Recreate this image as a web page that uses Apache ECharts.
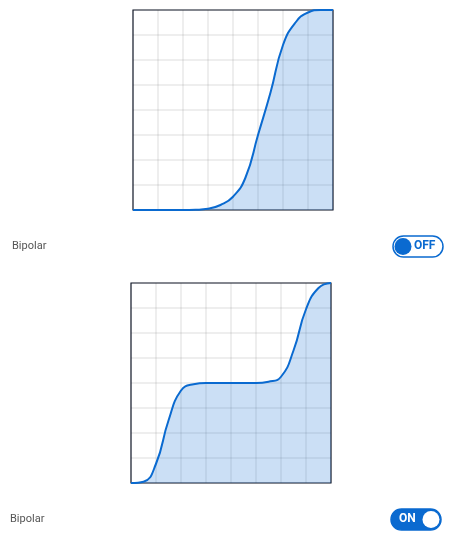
<!DOCTYPE html>
<html><head><meta charset="utf-8">
<script src="https://cdn.jsdelivr.net/npm/echarts@6/dist/echarts.min.js"></script>
<style>html,body{margin:0;background:#fff}#main{width:450px;height:535px}</style>
</head><body><div id="main"></div>
<script>
const xs = [0, 0.5, 1, 1.5, 2, 2.5, 3, 3.5, 4, 4.5, 5, 5.5, 6, 6.5, 7, 7.5, 8];
const unipolar = [0, 0, 0, 0, 0, 0.01, 0.05, 0.2, 0.53, 1.3, 3.0, 4.7, 6.6, 7.5, 7.9, 8, 8];
const bipolar = [0, 0.05, 0.77, 2.5, 3.7, 3.95, 4, 4, 4, 4, 4, 4.05, 4.25, 5.3, 6.95, 7.8, 8];

const blue = "#0a6ad0";
const pair = (ys) => xs.map((x, i) => [x, ys[i]]);

const axisX = (gi) => ({
  type: "value", gridIndex: gi, min: 0, max: 8, interval: 1,
  axisLabel: { show: false }, axisTick: { show: false },
  axisLine: { show: false },
  splitLine: { lineStyle: { color: "rgba(0,0,0,0.09)", width: 1.5 } },
});

const toggle = (x, y, on) => {
  const els = [
    { type: "rect", shape: { x, y, width: 50, height: 21, r: 10.5 },
      style: { fill: on ? blue : "#fff", stroke: blue, lineWidth: 1.5 } },
    { type: "circle", shape: { cx: on ? x + 40 : x + 10, cy: y + 10.5, r: 8.5 },
      style: { fill: on ? "#fff" : blue } },
    { type: "text", x: on ? x + 8 : x + 21, y: y + 4,
      style: { text: on ? "ON" : "OFF", fill: on ? "#fff" : blue,
        font: "bold 12px Roboto" } },
  ];
  return els;
};

const chart = echarts.init(document.getElementById("main"));
chart.setOption({
  animation: false,
  grid: [
    { left: 133, top: 10, width: 200, height: 200, show: true, borderColor: "#1b2233", borderWidth: 1.2 },
    { left: 131, top: 283, width: 200, height: 200, show: true, borderColor: "#1b2233", borderWidth: 1.2 },
  ],
  xAxis: [axisX(0), axisX(1)],
  yAxis: [axisX(0), axisX(1)],
  series: [
    { type: "line", xAxisIndex: 0, yAxisIndex: 0, data: pair(unipolar), smooth: 0.5,
      symbol: "none", lineStyle: { color: blue, width: 2 },
      areaStyle: { color: "rgba(10,106,208,0.3)" } },
    { type: "line", xAxisIndex: 1, yAxisIndex: 1, data: pair(bipolar), smooth: 0.5,
      symbol: "none", lineStyle: { color: blue, width: 2 },
      areaStyle: { color: "rgba(10,106,208,0.3)" } },
  ],
  graphic: [
    { type: "text", x: 12, y: 241, style: { text: "Bipolar", fill: "#555", font: "11px Roboto" } },
    { type: "text", x: 10, y: 514, style: { text: "Bipolar", fill: "#555", font: "11px Roboto" } },
    ...toggle(393, 236, false),
    ...toggle(391, 509, true),
  ],
});
</script></body></html>
